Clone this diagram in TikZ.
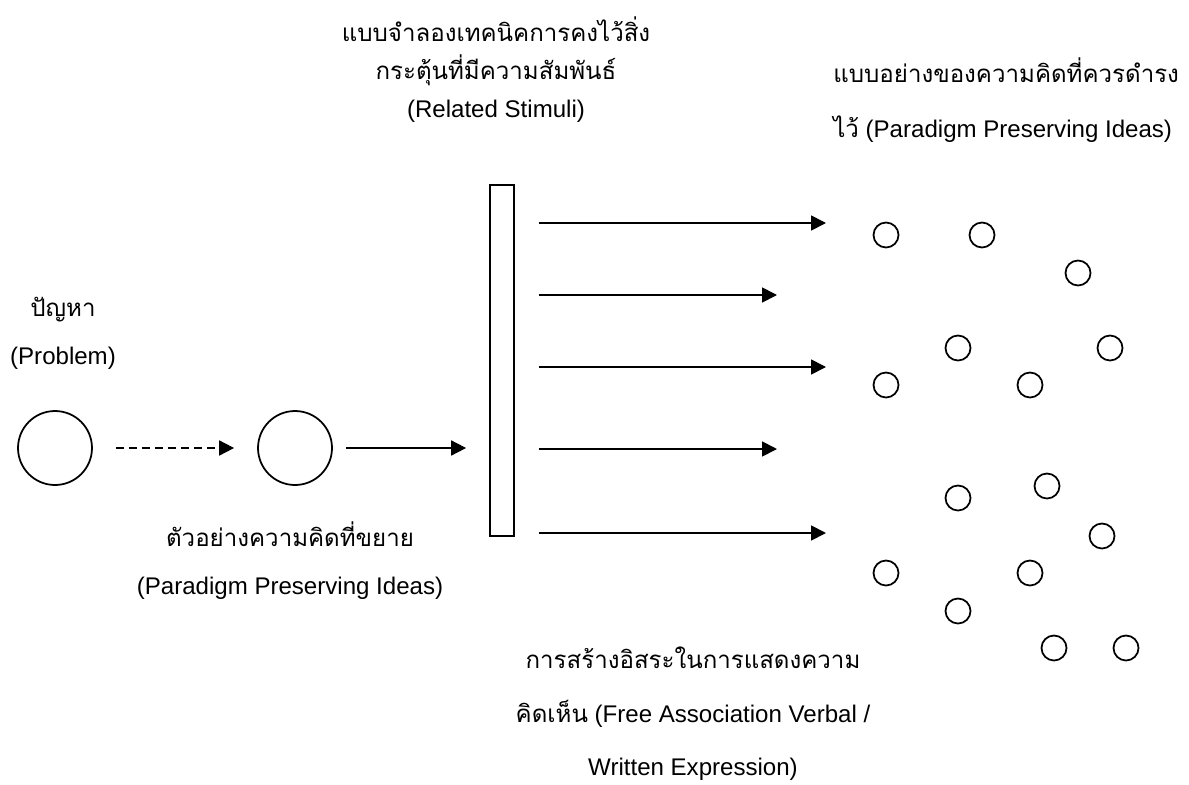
\documentclass[tikz,border=0pt]{standalone}
\usepackage{fontspec}
\setmainfont{Liberation Sans}
\newfontfamily\thaifont[Script=Thai]{Loma}
\usetikzlibrary{arrows.meta}

\tikzset{
  bigidea/.style={draw, circle, line width=1pt, minimum size=1.48cm, inner sep=0pt},
  idea/.style={draw, circle, line width=1pt, minimum size=0.5cm, inner sep=0pt},
  arr/.style={line width=1pt, -{Triangle[length=0.3cm, width=0.3cm]}},
  lbl/.style={font=\fontsize{13.7}{#1}\selectfont, align=center, inner sep=0pt},
  lbl/.default=28
}

\begin{document}
\begin{tikzpicture}[x=0.02cm, y=-0.02cm]
        \useasboundingbox (0,0) rectangle (1189,784);
        % problem and first idea
        \node[bigidea] (problem) at (55,448) {};
        \node[bigidea] (example) at (295,448) {};
        \node[draw, line width=1pt, minimum width=0.48cm, minimum height=7.02cm, inner sep=0pt] (stimuli) at (502,360.5) {};
        \draw[arr, dash pattern=on 0.16cm off 0.1cm, shorten <=0.46cm, shorten >=0.46cm] (problem) -- (example);
        \draw[arr, shorten <=0.26cm, shorten >=0.46cm] (example) -- (example -| stimuli.west);
        % arrows out of the stimuli
        \foreach \yy/\xx [count=\i] in {223/826, 295/777, 367/826, 449/777, 533/826} {
            \coordinate (tip\i) at (\xx,\yy);
            \draw[arr] ([xshift=0.48cm]stimuli.east |- tip\i) -- (tip\i);
        }
        % preserved ideas
        \foreach \xx/\yy [count=\i] in {886/235, 982/235, 1078/273, 958/348, 1110/348, 886/385, 1030/385,
                1047/486, 958/498, 1102/536, 886/573, 1030/573, 958/611, 1054/648, 1126/648}
            \node[idea] (kept\i) at (\xx,\yy) {};
        % labels
        \node[lbl=27.3] (lproblem) at (63,333) {{\thaifont ปัญหา}\\(Problem)};
        \node[lbl=27.3] (lexample) at (290,561) {{\thaifont ตัวอย่างความคิดที่ขยาย}\\(Paradigm Preserving Ideas)};
        \node[lbl=21.6] (lstimuli) at (496,70) {{\thaifont แบบจำลองเทคนิคการคงไว้สิ่ง}\\{\thaifont กระตุ้นที่มีความสัมพันธ์}\\(Related Stimuli)};
        \node[lbl=31.3, anchor=west, align=left] (lkept) at (833,100) {{\thaifont แบบอย่างของความคิดที่ควรดำรง}\\{\thaifont ไว้} (Paradigm Preserving Ideas)};
        \node[lbl=30.5] (lfree) at (693,714) {{\thaifont การสร้างอิสระในการแสดงความ}\\{\thaifont คิดเห็น} (Free Association Verbal /\\Written Expression)};
\end{tikzpicture}
\end{document}
